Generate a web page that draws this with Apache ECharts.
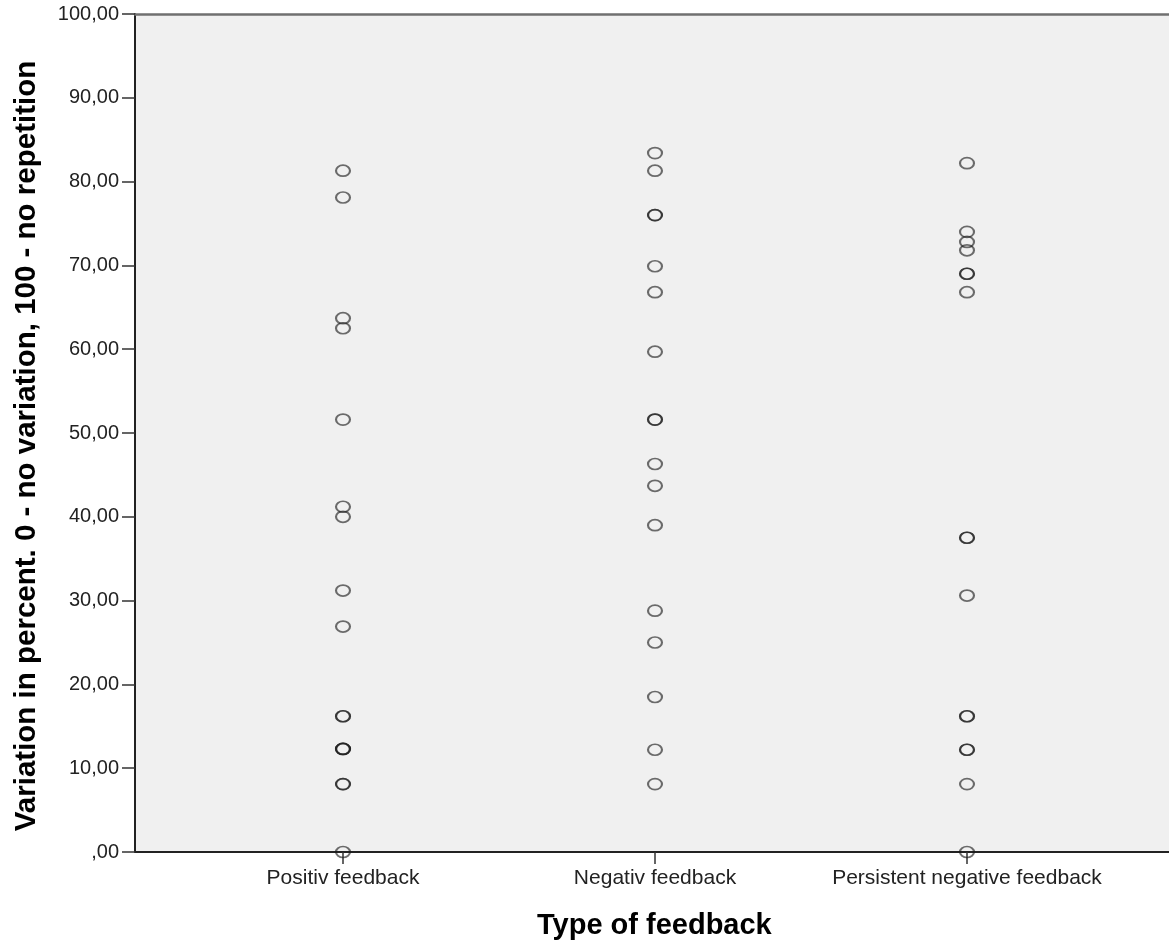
<!DOCTYPE html>
<html>
<head>
<meta charset="utf-8">
<script src="https://cdn.jsdelivr.net/npm/echarts@6/dist/echarts.min.js"></script>
<style>
html,body{margin:0;padding:0;background:#fff;}
#c{width:1169px;height:943px;}
</style>
</head>
<body>
<div id="c"></div>
<script>
const categories = ['Positiv feedback', 'Negativ feedback', 'Persistent negative feedback'];
const positiveValues = [81.3, 78.1, 63.7, 62.5, 51.6, 41.2, 40.0, 31.2, 26.9, 16.2, 16.2, 12.3, 12.3, 12.3, 8.1, 8.1, 0];
const negativeValues = [83.4, 81.3, 76.0, 76.0, 69.9, 66.8, 59.7, 51.6, 51.6, 46.3, 43.7, 39.0, 28.8, 25.0, 18.5, 12.2, 8.1];
const persistentValues = [82.2, 74.0, 72.8, 71.8, 69.0, 69.0, 66.8, 37.5, 37.5, 30.6, 16.2, 16.2, 12.2, 12.2, 8.1, 0];
const yTicks = [0, 10, 20, 30, 40, 50, 60, 70, 80, 90, 100];
const yAxisTitle = 'Variation in percent. 0 - no variation, 100 - no repetition';
const xAxisTitle = 'Type of feedback';

const groups = [positiveValues, negativeValues, persistentValues];
const points = [];
groups.forEach((vals, i) => vals.forEach(v => points.push([i + 1, v])));

const FONT = '"Liberation Sans", Arial, sans-serif';
const chart = echarts.init(document.getElementById('c'), null, {renderer: 'canvas'});
chart.setOption({
  animation: false,
  backgroundColor: '#ffffff',
  grid: {left: 135, right: 0, top: 14, bottom: 91, show: true, backgroundColor: '#f0f0f0', borderWidth: 0},
  graphic: [{
    type: 'text',
    left: 655 - 118,
    top: 911,
    style: {text: xAxisTitle, font: 'bold 29px ' + FONT, fill: '#000'}
  }],
  xAxis: [{
    type: 'value',
    min: 1 / 3,
    max: 1 / 3 + 1034 / 312,
    position: 'bottom',
    splitLine: {show: false},
    axisLine: {show: true, onZero: false, lineStyle: {color: '#222', width: 2}},
    axisTick: {show: true, customValues: [1, 2, 3], length: 12, lineStyle: {color: '#333', width: 1.5}},
    axisLabel: {
      customValues: [1, 2, 3],
      margin: 16,
      fontFamily: FONT, fontSize: 21, color: '#222',
      formatter: v => categories[Math.round(v) - 1] || ''
    }
  }, {
    type: 'value',
    min: 1 / 3,
    max: 1 / 3 + 1034 / 312,
    position: 'top',
    splitLine: {show: false},
    axisLine: {show: true, onZero: false, lineStyle: {color: '#707070', width: 2.5}},
    axisTick: {show: false},
    axisLabel: {show: false}
  }],
  yAxis: {
    type: 'value',
    min: 0,
    max: 100,
    interval: 10,
    name: yAxisTitle,
    nameLocation: 'middle',
    nameGap: 93,
    nameRotate: 90,
    nameTextStyle: {fontFamily: FONT, fontSize: 29.5, fontWeight: 'bold', color: '#000', padding: [0, 26, 0, 0]},
    splitLine: {show: false},
    axisLine: {show: true, onZero: false, lineStyle: {color: '#222', width: 2}},
    axisTick: {show: true, length: 13, lineStyle: {color: '#333', width: 1.5}},
    axisLabel: {
      margin: 16,
      fontFamily: FONT, fontSize: 20, color: '#222',
      formatter: v => (v === 0 ? ',00' : v.toFixed(2).replace('.', ','))
    }
  },
  series: [{
    type: 'scatter',
    xAxisIndex: 0,
    clip: true,
    symbol: 'circle',
    symbolSize: [14, 11],
    itemStyle: {color: 'rgba(0,0,0,0)', borderColor: 'rgba(25,25,25,0.78)', borderWidth: 1.9},
    emphasis: {disabled: true},
    data: points
  }]
});
</script>
</body>
</html>
